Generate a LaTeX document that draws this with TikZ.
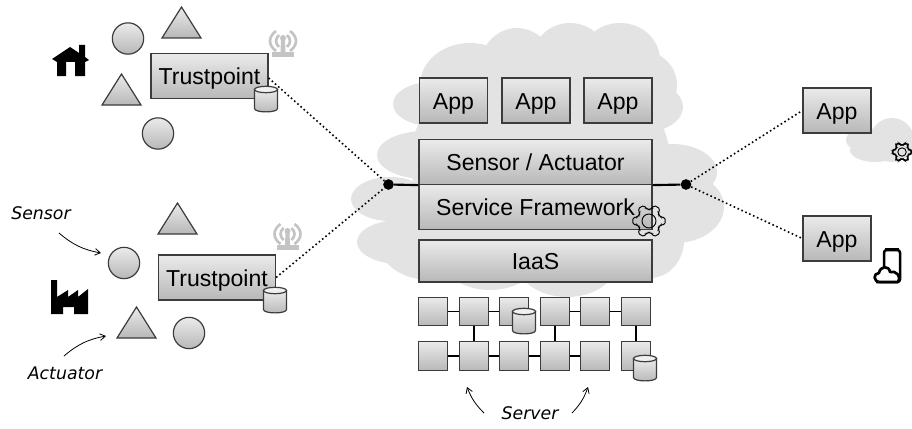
\documentclass[tikz,border=0pt]{standalone}
\usepackage{fontspec}
\setmainfont{Liberation Sans}
\newfontfamily\boxfont{Liberation Sans}
\newfontfamily\handfont{DejaVu Sans}
\usetikzlibrary{arrows.meta}
\definecolor{cloudgray}{HTML}{E3E3E3}
\definecolor{edgegray}{HTML}{3C3C3C}
\definecolor{antgray}{HTML}{C4C4C4}
\tikzset{
  x=0.75pt,y=-0.75pt,
  shade3d/.style={top color=white!92!black,bottom color=white!72!black,draw=edgegray,line width=0.9pt},
  boxa/.style={shade3d,rectangle,minimum width=#1*0.75pt,inner sep=0pt,text height=14pt,text depth=1.2pt,font=\boxfont\fontsize{17.3}{19}\selectfont},
  boxa/.default=68,
  srv/.style={shade3d,rectangle,minimum width=21.5pt,minimum height=21.5pt,inner sep=0pt},
  circ/.style={shade3d,circle,minimum size=23.5pt,inner sep=0pt},
  hand/.style={font=\handfont\itshape\fontsize{13}{14}\selectfont,inner sep=0pt},
  dotline/.style={dotted,line width=1.2pt,black},
  thick line/.style={line width=1.6pt,black},
  thinlink/.style={line width=0.8pt,black},
  note/.style={-{Straight Barb[length=4pt,width=5pt]},line width=0.6pt,black},
  dot/.style={circle,fill=black,inner sep=0pt,minimum size=8pt},
}
\newcommand{\cyl}[1]{%
  \begin{scope}[shift={(#1)}]
    \path[shade3d] (-11.5,-9.5) -- (-11.5,9.5) .. controls (-11.5,14) and (11.5,14) .. (11.5,9.5) -- (11.5,-9.5) -- cycle;
    \draw[edgegray,line width=0.9pt,fill=white!94!black] (0,-9.5) ellipse[x radius=11.5,y radius=3.2];
  \end{scope}}
\newcommand{\gearicon}[2]{%
  \begin{scope}[shift={(#1)},scale=#2]
    \draw[black,line width=0.7pt,rounded corners=1.2pt,fill=none]
      \foreach \a [count=\i] in {0,60,...,300}{
        \ifnum\i=1 ({\a-12}:16.5) \else -- ({\a-12}:16.5) \fi -- ({\a+12}:16.5) -- ({\a+18}:12.5) -- ({\a+30}:11.5) -- ({\a+42}:12.5)
      } -- cycle;
    \draw[black,line width=0.7pt] (0,0) circle[radius=7];
  \end{scope}}
\newcommand{\anticon}[1]{%
  \begin{scope}[shift={(#1)},antgray]
    \fill (-11,11) rectangle (11,16);
    \fill (-2,-2) -- (2,-2) -- (2.5,11) -- (-2.5,11) -- cycle;
    \fill (0,-3) circle[radius=3];
    \draw[line width=2pt] (-4,-6) .. controls (-8,-2) and (-8,2) .. (-4,6);
    \draw[line width=2pt] (4,-6) .. controls (8,-2) and (8,2) .. (4,6);
    \draw[line width=2pt] (-7,-10) .. controls (-15,-4) and (-15,4) .. (-7,10);
    \draw[line width=2pt] (7,-10) .. controls (15,-4) and (15,4) .. (7,10);
  \end{scope}}
\newcommand{\tria}[2]{\path[shade3d] (#1,#2) -- ({#1+19.5},{#2+31}) -- ({#1-19.5},{#2+31}) -- cycle;}
\begin{document}
\begin{tikzpicture}
\useasboundingbox (0,0) rectangle (912,428);
\fill[white] (0,0) rectangle (912,428);
% big cloud
\begin{scope}[cloudgray]
 \fill (540,160) ellipse[x radius=130,y radius=100];
 \fill (470,85) ellipse[x radius=50,y radius=42];
 \fill (517,70) ellipse[x radius=38,y radius=42];
 \fill (570,60) ellipse[x radius=38,y radius=37];
 \fill (620,60) ellipse[x radius=40,y radius=37];
 \fill (640,85) ellipse[x radius=37,y radius=35];
 \fill (645,107) ellipse[x radius=38,y radius=25];
 \fill (432,104) ellipse[x radius=39,y radius=22];
 \fill (425,155) ellipse[x radius=48,y radius=24];
 \fill (390,199) ellipse[x radius=39,y radius=22];
 \fill (400,242) ellipse[x radius=43,y radius=22];
 \fill (430,245) ellipse[x radius=50,y radius=35];
 \fill (490,255) ellipse[x radius=50,y radius=35];
 \fill (567,262) ellipse[x radius=50,y radius=35];
 \fill (650,240) ellipse[x radius=34,y radius=38];
 \fill (672,172) ellipse[x radius=45,y radius=28];
 \fill (675,207) ellipse[x radius=49,y radius=36];
\end{scope}
% small cloud
\begin{scope}[cloudgray]
 \fill (892,140) ellipse[x radius=22,y radius=22];
 \fill (866,140) ellipse[x radius=20,y radius=12];
 \fill (875,150) ellipse[x radius=25,y radius=12];
\end{scope}
% stack
\node[boxa,minimum height=45*0.75pt] (a1) at (453.5,100.5) {App};
\node[boxa,minimum height=45*0.75pt] (a2) at (536,100.5) {App};
\node[boxa,minimum height=45*0.75pt] (a3) at (618,100.5) {App};
\node[boxa=233,minimum height=45*0.75pt] (sa) at (535.5,162) {Sensor / Actuator};
\node[boxa=233,minimum height=45*0.75pt] (sf) at (535.5,207) {Service Framework};
\node[boxa=233,minimum height=42*0.75pt] (iaas) at (535.5,261) {IaaS};
\gearicon{649,221}{1}
% hub and lines
\node[dot] (hubl) at (388.5,184.5) {};
\node[dot] (hubr) at (686,184.5) {};
\draw[thick line] (hubl) -- (sa.south west);
\draw[thick line] (sa.south east) -- (hubr);
% servers
\foreach \n/\x in {1/433,2/474,3/514,4/555,5/595,6/636}{
  \node[srv] (t\n) at (\x,311.5) {};
  \node[srv] (b\n) at (\x,356) {};
}
\foreach \p/\q in {t1/t2,t2/t3,t4/t5,t5/t6,b1/b2,b2/b3,b3/b4,b4/b5}{\draw[thinlink] (\p) -- (\q);}
\foreach \p/\q in {t2/b2,t4/b4,t6/b6}{\draw[thinlink] (\p) -- (\q);}
\cyl{524,321}
\cyl{645,368}
% server notes
\node[hand] (server) at (530,413) {Server};
\coordinate (sl) at (467,387);
\coordinate (sr) at (588,387);
\draw[note] (484,413) to[bend left=12] (sl);
\draw[note] (572,413) to[bend right=12] (sr);
% trustpoints
\node[boxa=117,minimum height=45*0.75pt] (tp1) at (209.5,76) {Trustpoint};
\node[boxa=117,minimum height=45*0.75pt] (tp2) at (217,277.5) {Trustpoint};
\cyl{266,99}
\cyl{275,300}
\anticon{283,41}
\anticon{287.5,234}
\node[circ] (c11) at (128,38.5) {};
\node[circ] (c12) at (158,133.5) {};
\node[circ] (c21) at (124,263) {};
\node[circ] (c22) at (189,333) {};
\tria{181.5}{7}
\tria{121.5}{74}
\tria{177.5}{203}
\tria{136.5}{307}
% right apps
\node[boxa,minimum height=45*0.75pt] (r1) at (837,110.5) {App};
\node[boxa,minimum height=45*0.75pt] (r2) at (837,238.5) {App};
\gearicon{902,152}{0.6}
% dotted links
\draw[dotline] ([yshift=-1.5pt]tp1.east) -- (hubl);
\draw[dotline] (tp2.east) -- (hubl);
\draw[dotline] (hubr) -- (r1.west);
\draw[dotline] (hubr) -- (r2.west);
% home icon
\fill[black] (52,59) -- (70,47) -- (79,53) -- (79,45) -- (85,45) -- (85,57) -- (89,60) -- (85,62) -- (85,76) -- (75,76) -- (75,62) -- (66,62) -- (66,76) -- (57,76) -- (57,62) -- cycle;
% factory icon
\fill[black] (51,280) -- (57,280) -- (57,297) -- (68,290) -- (68,297) -- (78,290) -- (78,297) -- (88,289) -- (88,314) -- (74,314) -- (74,307) -- (63,307) -- (63,314) -- (51,314) -- cycle;
% phone-cloud icon
\draw[black,line width=1.9pt,rounded corners=2pt] (884,268) -- (884,250) -- (900,250) -- (900,282) -- (876,282);
\draw[black,line width=2.4pt] (885,249.5) -- (899,249.5);
\draw[black,line width=2pt,fill=white,line join=round] (880,282) .. controls (873,282) and (873,273) .. (879,273) .. controls (880,266) and (889,265) .. (890,272) .. controls (896,270) and (902,277) .. (898,282) -- cycle;
% labels
\node[hand] (sensor) at (41,213) {Sensor};
\node[hand] (actuator) at (65,373) {Actuator};
\draw[note] (59,233) to[bend right=15] (101,253);
\draw[note] (64,356) to[bend left=15] (106,336);
\end{tikzpicture}
\end{document}
